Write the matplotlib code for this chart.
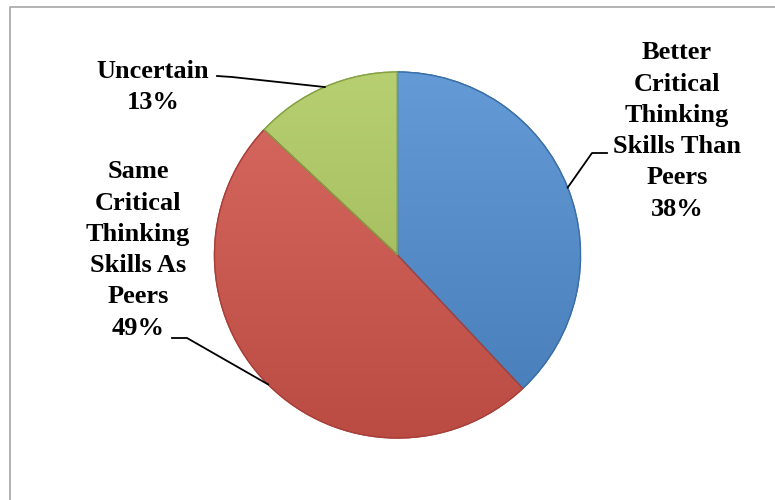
import numpy as np
import matplotlib
matplotlib.use("Agg")
import matplotlib.pyplot as plt
from matplotlib.colors import to_rgb

# Survey answers on critical thinking skills
labels = ["Better\nCritical\nThinking\nSkills Than\nPeers", "Same\nCritical\nThinking\nSkills As\nPeers", "Uncertain"]
percents = [38, 49, 13]
colors = ["#4F8DD0", "#D4564C", "#ADC95E"]
edge_colors = ["#3A6FA8", "#A8403A", "#86A044"]

# label anchor (text centre) and the elbow where the leader meets the text, in pixels
label_pos = [(677, 131), (138, 250), (153, 87)]
elbow_pos = [[(607, 153), (592, 153)], [(172, 338), (187, 338)], [(217, 76), (232, 77)]]

center = (397.5, 255)
radius = 183

fig = plt.figure(figsize=(7.75, 5), dpi=100)
ax = fig.add_axes([0, 0, 1, 1])

# frame of the chart area (only top and left edges are in view)
ax.plot([9.5, 9.5, 775], [500, 6.5, 6.5], color="#A6A6A6", lw=1.2)

# y axis is inverted, so a clockwise pie from the top needs counterclock=True here
wedges, _ = ax.pie(percents, colors=colors, startangle=-90, counterclock=True,
                   center=center, radius=radius, frame=True,
                   wedgeprops=dict(linewidth=1.0))
ax.set_xlim(0, 775)
ax.set_ylim(500, 0)
ax.set_aspect("equal")
ax.axis("off")

# soft top-to-bottom shading inside each slice
t = np.linspace(0, 1, 200)[:, None]
for w, c, ec in zip(wedges, colors, edge_colors):
    w.set_edgecolor(ec)
    base = np.array(to_rgb(c))
    light = base + (1 - base) * 0.12
    dark = base * 0.88
    grad = light * (1 - t) + dark * t
    img = ax.imshow(grad[:, None, :], extent=(center[0] - radius, center[0] + radius,
                                              center[1] + radius, center[1] - radius),
                    aspect="auto", zorder=w.get_zorder() + 0.1, interpolation="bilinear")
    img.set_clip_path(w)
    w2 = plt.matplotlib.patches.Wedge(w.center, w.r, w.theta1, w.theta2,
                                      facecolor="none", edgecolor=ec, lw=1.0,
                                      zorder=w.get_zorder() + 0.2)
    ax.add_patch(w2)
ax.set_xlim(0, 775)
ax.set_ylim(500, 0)

font = dict(family=["Liberation Serif", "DejaVu Serif"], weight="bold", size=19)

total = sum(percents)
start = 0.0
for lab, pct, pos, elbow in zip(labels, percents, label_pos, elbow_pos):
    mid = 90 - (start + pct / 2) / total * 360
    start += pct
    ex = center[0] + radius * np.cos(np.radians(mid))
    ey = center[1] - radius * np.sin(np.radians(mid))
    xs = [elbow[0][0], elbow[1][0], ex]
    ys = [elbow[0][1], elbow[1][1], ey]
    ax.plot(xs, ys, color="black", lw=1.3, zorder=5)
    ax.text(pos[0], pos[1], f"{lab}\n{pct}%", ha="center", va="center",
            linespacing=1.46, zorder=6, **font)

fig.savefig("out.png", dpi=100)
